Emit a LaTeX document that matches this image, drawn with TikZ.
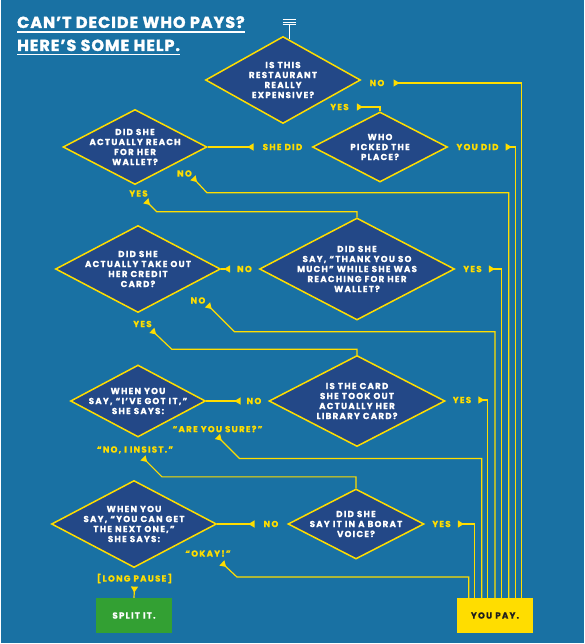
\documentclass[tikz,border=0pt]{standalone}
\usepackage{fontspec}
\newfontfamily\chartfont{Poppins}[LetterSpace=14, BoldFeatures={FakeBold=0.8}]
\newfontfamily\headfont{Poppins}[LetterSpace=6, BoldFeatures={FakeBold=1.6}]
\usetikzlibrary{arrows.meta,shapes.geometric,positioning,calc}
\definecolor{BgBlue}{RGB}{25,113,163}
\definecolor{DiaBlue}{RGB}{35,72,135}
\definecolor{FlowYellow}{RGB}{255,221,0}
\definecolor{SplitGreen}{RGB}{51,160,51}
\definecolor{PayInk}{RGB}{30,30,30}
\tikzset{
	q/.style 2 args={diamond, draw=FlowYellow, fill=DiaBlue, line width=1.5pt,
		minimum width=#1, minimum height=#2, inner sep=0pt},
	qtext/.style={text=white, inner sep=0pt, align=center,
		font=\chartfont\bfseries\fontsize{8.7}{10}\selectfont},
	ans/.style={text=FlowYellow, inner sep=0pt,
		font=\chartfont\bfseries\fontsize{8.7}{10}\selectfont},
	flow/.style={draw=FlowYellow, line width=1.2pt,
		{Triangle[reversed, length=6pt, width=7pt]}-},
	endbox/.style={minimum width=76pt, minimum height=35pt, inner sep=0pt,
		font=\chartfont\bfseries\fontsize{8.7}{10}\selectfont},
	headtext/.style={text=white, inner sep=0pt,
		font=\headfont\bfseries\fontsize{16}{18}\selectfont}
}
\begin{document}
\begin{tikzpicture}[x=1pt, y=-1pt]
	\fill[white] (0,0) rectangle (585,644);
	\fill[BgBlue] (1,0) rectangle (583.5,642.8);
	\useasboundingbox (0,0) rectangle (585,644);
	% heading
	\node[headtext, anchor=base west] (head) at (17,28) {CAN’T DECIDE WHO PAYS?};
	\node[headtext, anchor=base west] (help) at (17,51) {HERE’S SOME HELP.};
	\draw[white, line width=1.2pt] ([yshift=-4pt]head.base west) -- ([yshift=-4pt]head.base east);
	\draw[white, line width=1.2pt] ([yshift=-3.5pt]help.base west) -- ([yshift=-3.5pt]help.base east);
	% start mark
	\coordinate (menu) at (289.3,24.7);
	\foreach \yy in {19.3,22,24.7}
		\draw[white, line width=0.8pt] (282.7,\yy) -- (296,\yy);
	\draw[white, line width=0.8pt] (menu) -- ++(0,14);
	% questions
	\node[q={155pt}{87pt}, label={[qtext]center:{IS THIS\\RESTAURANT\\REALLY\\EXPENSIVE?}}] (expensive) at (283,80) {};
	\node[q={135pt}{70pt}, label={[qtext]center:{WHO\\PICKED THE\\PLACE?}}] (picked) at (380,147) {};
	\node[q={144pt}{75pt}, label={[qtext]center:{DID SHE\\ACTUALLY REACH\\FOR HER\\WALLET?}}] (reach) at (135,147) {};
	\node[q={195pt}{102pt}, label={[qtext]center:{DID SHE\\SAY, “THANK YOU SO\\MUCH” WHILE SHE WAS\\REACHING FOR HER\\WALLET?}}] (thanks) at (357,269) {};
	\node[q={165pt}{87pt}, label={[qtext]center:{DID SHE\\ACTUALLY TAKE OUT\\HER CREDIT\\CARD?}}] (credit) at (138,269) {};
	\node[q={176pt}{91pt}, label={[qtext]center:{IS THE CARD\\SHE TOOK OUT\\ACTUALLY HER\\LIBRARY CARD?}}] (library) at (357,401) {};
	\node[q={135pt}{72pt}, label={[qtext]center:{WHEN YOU\\SAY, “I’VE GOT IT,”\\SHE SAYS:}}] (gotit) at (138,401) {};
	\node[q={136pt}{70pt}, label={[qtext]center:{DID SHE\\SAY IT IN A BORAT\\VOICE?}}] (borat) at (356,524) {};
	\node[q={165pt}{87pt}, label={[qtext]center:{WHEN YOU\\SAY, “YOU CAN GET\\THE NEXT ONE,”\\SHE SAYS:}}] (nextone) at (134,524) {};
	% outcomes
	\node[endbox, fill=SplitGreen, text=white] (split) at (134,615.5) {SPLIT IT.};
	\node[endbox, fill=FlowYellow, text=PayInk] (pay) at (495,615.5) {YOU PAY.};
	% answers
	\node[ans] (noExp) at (377,83) {NO};
	\node[ans] (yesExp) at (339.5,107) {YES};
	\node[ans] (sheDid) at (282.5,147) {SHE DID};
	\node[ans] (youDid) at (477.5,147) {YOU DID};
	\node[ans] (noReach) at (184.5,173.5) {NO};
	\node[ans] (yesReach) at (138.5,193.5) {YES};
	\node[ans] (yesThanks) at (472.5,269) {YES};
	\node[ans] (noThanks) at (244.5,269) {NO};
	\node[ans] (noCredit) at (198,300.5) {NO};
	\node[ans] (yesCredit) at (142.5,324) {YES};
	\node[ans] (yesLibrary) at (462,400) {YES};
	\node[ans] (noLibrary) at (254,401) {NO};
	\node[ans] (sure) at (217.5,429) {“ARE YOU SURE?”};
	\node[ans] (insist) at (135,450) {“NO, I INSIST.”};
	\node[ans] (yesBorat) at (441.5,524) {YES};
	\node[ans] (noBorat) at (271,524) {NO};
	\node[ans] (okay) at (208,553.5) {“OKAY!”};
	\node[ans] (pause) at (134.5,578.5) {[LONG PAUSE]};
	% flows
	\draw[flow] ([xshift=9pt]noExp.east) -| ([xshift=65pt]pay.north west);
	\draw[flow] ([xshift=8pt]yesExp.east) -| (picked.north);
	\draw[flow] ([xshift=-9pt]sheDid.west) -- (reach.east);
	\draw[flow] ([xshift=7pt]youDid.east) -| ([xshift=59pt]pay.north west);
	\draw[flow] ([shift={(1pt,-1pt)}]noReach.south east) -- ++(14,15) -| ([xshift=52pt]pay.north west);
	\draw[flow] ([shift={(-2pt,-4pt)}]yesReach.south east) -- ++(11,11) -| (thanks.north);
	\draw[flow] ([xshift=7pt]yesThanks.east) -| ([xshift=45pt]pay.north west);
	\draw[flow] ([xshift=-7pt]noThanks.west) -- (credit.east);
	\draw[flow] ([shift={(2pt,-1pt)}]noCredit.south east) -- ++(27,27) -| (pay.north);
	\draw[flow] ([shift={(0pt,-3pt)}]yesCredit.south east) -- ++(20,19) -| (library.north);
	\draw[flow] ([xshift=7pt]yesLibrary.east) -| ([xshift=31pt]pay.north west);
	\draw[flow] ([xshift=-6pt]noLibrary.west) -- (gotit.east);
	\draw[flow] ([yshift=-4pt]sure.south) -- ++(22,22) -| ([xshift=25pt]pay.north west);
	\draw[flow] ([shift={(8pt,-4pt)}]insist.south) -- ++(19,19) -| (borat.north);
	\draw[flow] ([xshift=7pt]yesBorat.east) -| ([xshift=18pt]pay.north west);
	\draw[flow] ([xshift=-9pt]noBorat.west) -- (nextone.east);
	\draw[flow] ([shift={(-9pt,-6pt)}]okay.south east) -- ++(15,14) -| ([xshift=12pt]pay.north west);
	\draw[flow] ([yshift=-3pt]pause.south) -- (split.north);
\end{tikzpicture}
\end{document}
